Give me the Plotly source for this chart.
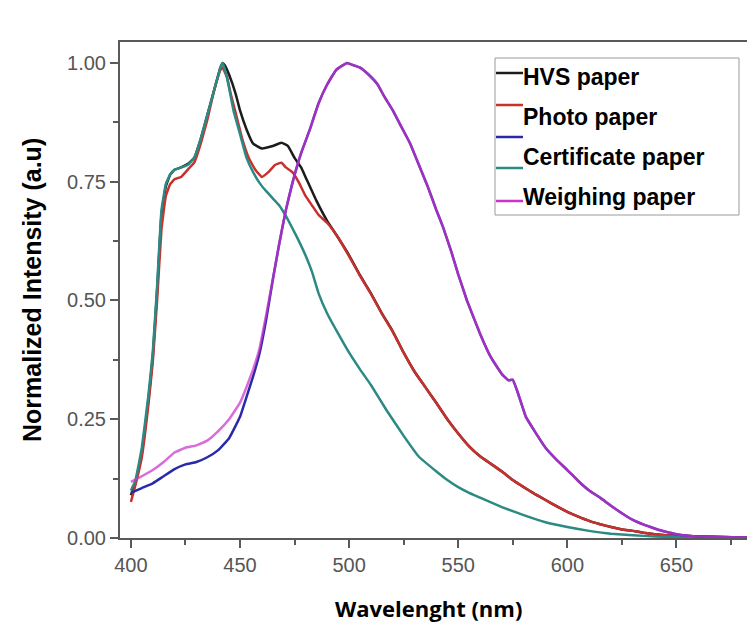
import plotly.graph_objects as go

# ---------------- data ----------------
hvs_wl = [400,402,405,408,410,412,414,416,418,420,423,426,429,432,435,438,441,442,443,445,
          448,450,453,456,460,465,469,472,475,478,480,485,490,495,500,505,510,515,520,525,
          530,535,540,545,550,555,560,565,570,575,580,585,590,595,600,605,610,615,620,625,
          630,635,640,645,650,655,660,670,680,686]
hvs = [0.09,0.115,0.18,0.29,0.38,0.52,0.68,0.74,0.765,0.775,0.78,0.787,0.80,0.84,0.89,0.94,0.99,1.0,0.995,0.975,
       0.935,0.90,0.86,0.83,0.82,0.825,0.832,0.825,0.80,0.78,0.76,0.71,0.667,0.632,0.595,0.553,0.515,0.473,0.435,0.39,
       0.35,0.317,0.284,0.25,0.22,0.193,0.172,0.156,0.14,0.122,0.107,0.093,0.08,0.067,0.055,0.045,0.036,0.029,0.023,0.018,
       0.015,0.011,0.008,0.006,0.005,0.004,0.003,0.002,0.001,0.001]

photo_wl = [400,402,405,408,410,412,414,416,418,420,423,426,429,432,435,438,441,442,444,446,
            448,451,454,457,460,463,466,469,471,474,477,480,483,486,490,
            495,500,505,510,515,520,525,530,535,540,545,550,555,560,565,570,575,580,585,590,
            595,600,605,610,615,620,625,630,635,640,645,650,655,660,670,680,686]
photo = [0.076,0.11,0.17,0.28,0.37,0.50,0.65,0.72,0.745,0.755,0.76,0.775,0.79,0.83,0.88,0.94,0.985,0.99,0.97,0.93,
         0.895,0.84,0.80,0.775,0.76,0.77,0.785,0.79,0.78,0.77,0.748,0.72,0.70,0.68,0.663,
         0.632,0.593,0.552,0.514,0.472,0.434,0.39,0.35,0.317,0.284,0.25,0.22,0.193,0.172,0.156,0.14,0.122,0.107,0.093,0.08,
         0.067,0.055,0.045,0.036,0.029,0.023,0.018,0.015,0.011,0.008,0.006,0.005,0.004,0.003,0.002,0.001,0.001]

cert_teal_wl = [400,402,405,408,410,412,414,416,418,420,423,426,429,432,435,438,441,442,444,447,
                450,453,456,459,462,465,468,471,474,477,480,483,486,490,495,500,505,510,517,525,
                532,540,545,550,555,560,570,580,590,600,610,620,630,640,650,660,670,686]
cert_teal = [0.10,0.12,0.19,0.30,0.39,0.53,0.69,0.745,0.765,0.775,0.78,0.785,0.80,0.84,0.89,0.94,0.99,1.0,0.97,0.90,
             0.85,0.80,0.77,0.747,0.73,0.715,0.70,0.678,0.652,0.625,0.595,0.56,0.515,0.472,0.43,0.39,0.355,0.322,0.27,0.215,
             0.171,0.14,0.122,0.107,0.095,0.085,0.065,0.048,0.033,0.023,0.015,0.009,0.006,0.003,0.002,0.001,0.001,0.0]

cert_wl = [400,405,410,415,420,425,430,435,440,445,450,453,456,459,462,465,468,471,474,478,
           482,486,490,494,499,502,505,509,513,516,520,524,528,532,536,540,543,547,550,554,
           560,565,570,573,575,577,581,585,590,595,600,605,610,615,620,625,630,635,640,645,
           650,655,660,670,686]
cert = [0.095,0.105,0.115,0.13,0.145,0.155,0.16,0.17,0.185,0.21,0.255,0.297,0.34,0.39,0.46,0.543,0.62,0.69,0.747,0.81,
        0.86,0.915,0.955,0.985,1.0,0.995,0.99,0.975,0.955,0.93,0.90,0.865,0.83,0.785,0.74,0.69,0.655,0.60,0.555,0.50,
        0.43,0.38,0.345,0.332,0.333,0.31,0.255,0.225,0.19,0.165,0.143,0.12,0.10,0.085,0.068,0.052,0.038,0.028,0.02,0.013,
        0.008,0.005,0.003,0.002,0.001]

weigh_wl = [400,405,410,415,420,425,430,435,440,445,450,453,456,459,462,465,468,471,474,478,
            482,486,490,494,499,502,505,509,513,516,520,524,528,532,536,540,543,547,550,554,
            560,565,570,573,575,577,581,585,590,595,600,605,610,615,620,625,630,635,640,645,
            650,655,660,670,686]
weigh = [0.118,0.13,0.143,0.16,0.18,0.19,0.195,0.205,0.225,0.25,0.285,0.318,0.355,0.40,0.47,0.543,0.62,0.69,0.747,0.81,
         0.86,0.915,0.955,0.985,1.0,0.995,0.99,0.975,0.955,0.93,0.90,0.865,0.83,0.785,0.74,0.69,0.655,0.60,0.555,0.50,
         0.43,0.38,0.345,0.332,0.333,0.31,0.255,0.225,0.19,0.165,0.143,0.12,0.10,0.085,0.068,0.052,0.038,0.028,0.02,0.013,
         0.008,0.005,0.003,0.002,0.001]

legend_labels = ["HVS paper", "Photo paper", "Certificate paper", "Weighing paper"]
x_ticks = [400, 450, 500, 550, 600, 650]
y_ticks = [0.0, 0.25, 0.5, 0.75, 1.0]
y_ticklabels = ["0.00", "0.25", "0.50", "0.75", "1.00"]
x_title = "Wavelenght (nm)"
y_title = "Normalized Intensity (a.u)"

# ---------------- styling ----------------
C_BLACK = "#1c1c1c"
C_RED = "#c8302e"
C_TEAL = "#2b8a83"
C_BLUE = "#2a2aa8"
C_MAG = "#cc33cc"

fig = go.Figure()
series = [
    (hvs_wl, hvs, C_BLACK, "HVS paper", 1.0),
    (photo_wl, photo, C_RED, "Photo paper", 1.0),
    (cert_teal_wl, cert_teal, C_TEAL, "Certificate paper (teal)", 1.0),
    (cert_wl, cert, C_BLUE, "Certificate paper", 1.0),
    (weigh_wl, weigh, C_MAG, "Weighing paper", 0.72),
]
for wl, vals, col, name, op in series:
    fig.add_trace(go.Scatter(x=wl, y=vals, mode="lines", name=name, opacity=op,
                             line=dict(color=col, width=2.5, shape="spline", smoothing=0.3),
                             showlegend=False))

# plot area in screen pixels: x 120..755, y 42..538 (page has an 8px body margin)
def px(xp):
    return (xp - 120) / 635.0

def py(yp):
    return (538 - yp) / 496.0

shapes = [dict(type="rect", xref="paper", yref="paper", x0=px(495), x1=px(739), y0=py(215), y1=py(58),
               line=dict(color="#9a9a9a", width=1), fillcolor="white", layer="above")]
legend_line_y = [73, 105, 137, 168, 201]
legend_line_c = [C_BLACK, C_RED, C_BLUE, C_TEAL, C_MAG]
for yy, cc in zip(legend_line_y, legend_line_c):
    shapes.append(dict(type="line", xref="paper", yref="paper", x0=px(496), x1=px(523), y0=py(yy), y1=py(yy),
                       line=dict(color=cc, width=2.5), layer="above"))

annotations = []
legend_text_y = [77, 117, 157, 197]
for yy, lab in zip(legend_text_y, legend_labels):
    annotations.append(dict(xref="paper", yref="paper", x=px(521), y=py(yy), text="<b>%s</b>" % lab,
                            showarrow=False, xanchor="left", yanchor="middle",
                            font=dict(family="Liberation Sans, Arial", size=23, color="black")))
# axis titles
annotations.append(dict(xref="paper", yref="paper", x=px(428), y=py(608), text="<b>%s</b>" % x_title,
                        showarrow=False, xanchor="center", yanchor="middle",
                        font=dict(family="Open Sans", size=22, color="black")))
annotations.append(dict(xref="paper", yref="paper", x=px(32), y=py(290), text="<b>%s</b>" % y_title,
                        showarrow=False, xanchor="center", yanchor="middle", textangle=-90,
                        font=dict(family="Liberation Sans, Arial", size=25, color="black")))

fig.update_layout(
    width=747, height=617,
    margin=dict(l=112, r=0, t=34, b=87),
    plot_bgcolor="white", paper_bgcolor="white",
    shapes=shapes, annotations=annotations,
    showlegend=False,
)
fig.update_xaxes(
    range=[395, 686], tickvals=x_ticks, ticktext=[str(v) for v in x_ticks], automargin=False,
    showgrid=False, zeroline=False, showline=True, linecolor="#5a5a5a", linewidth=2,
    mirror=True, ticks="outside", ticklen=8, tickwidth=2, tickcolor="#5a5a5a",
    tickfont=dict(family="Liberation Sans, Arial", size=20, color="#555555"),
    minor=dict(dtick=25, tick0=400, ticks="outside", ticklen=5, tickwidth=2, tickcolor="#5a5a5a", showgrid=False),
)
fig.update_yaxes(
    range=[0, 1.044], tickvals=y_ticks, ticktext=y_ticklabels, automargin=False,
    showgrid=False, zeroline=False, showline=True, linecolor="#5a5a5a", linewidth=2,
    ticks="outside", ticklen=8, tickwidth=2, tickcolor="#5a5a5a",
    tickfont=dict(family="Liberation Sans, Arial", size=20, color="#555555"),
    minor=dict(dtick=0.125, tick0=0, ticks="outside", ticklen=5, tickwidth=2, tickcolor="#5a5a5a", showgrid=False),
)

fig.write_html("out.html")
